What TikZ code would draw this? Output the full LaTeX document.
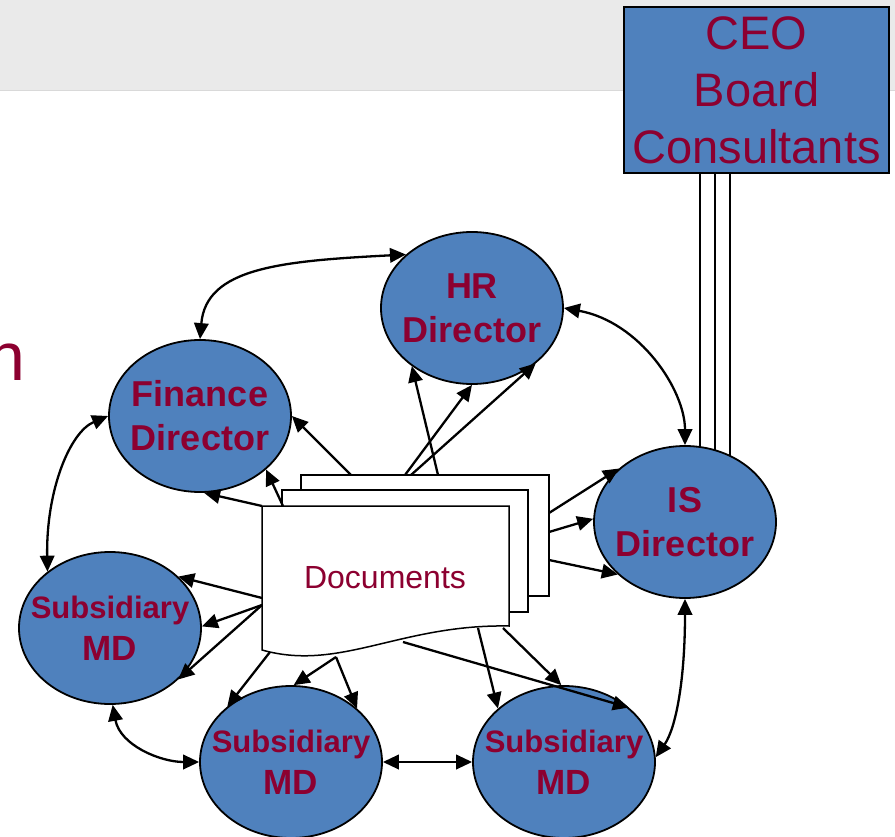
\documentclass[tikz,border=0pt]{standalone}
\usepackage{fontspec}
\setmainfont{Liberation Sans}
\usetikzlibrary{shapes.geometric,arrows.meta}
\pgfdeclarelayer{background}
\pgfdeclarelayer{foreground}
\pgfsetlayers{background,main,foreground}
\definecolor{textred}{RGB}{140,0,48}
\definecolor{nodeblue}{RGB}{79,129,189}
\definecolor{headgrey}{RGB}{234,234,234}
\tikzset{
  director/.style={ellipse,draw,line width=1.8pt,fill=nodeblue,minimum width=182pt,minimum height=152pt,inner sep=0pt},
  dirtext/.style={align=center,inner sep=0pt,text=textred,font=\fontsize{36}{44}\selectfont\bfseries},
  subtext/.style={dirtext,font=\fontsize{31}{42}\selectfont\bfseries},
  docpage/.style={draw,line width=1.5pt,fill=white,inner sep=0pt},
  flow/.style={line width=2.3pt,-{Triangle[length=16pt,width=14.5pt]}},
  dflow/.style={line width=2.3pt,{Triangle[length=16pt,width=14.5pt]}-{Triangle[length=16pt,width=14.5pt]}}
}
\newcommand{\mdline}{{\fontsize{35}{42}\selectfont MD}}
\begin{document}
\begin{tikzpicture}[x=1pt,y=-1pt]
\useasboundingbox (0,0) rectangle (895,837);
\clip (0,0) rectangle (895,837);
\begin{pgfonlayer}{background}
\fill[headgrey] (0,0) rectangle (895,90);
\draw[line width=1pt,black!15] (0,90.5) -- (895,90.5);
\end{pgfonlayer}
\node[anchor=base east,inner sep=0pt,text=textred,font=\fontsize{68}{80}\selectfont] (title) at (26,380) {n};
\node[draw,line width=1.5pt,fill=nodeblue,minimum width=265pt,minimum height=166pt,inner sep=0pt,align=center,text=textred,font=\fontsize{47}{57}\selectfont] (ceo) at (756.5,90) {CEO\\Board\\Consultants};
% directors and subsidiaries
\node[director,label={[dirtext]center:HR\\Director}] (hr) at (472,308) {};
\node[director,label={[dirtext]center:Finance\\Director}] (fin) at (200,416) {};
\node[director,label={[dirtext]center:IS\\Director}] (is) at (685,522) {};
\node[director,label={[subtext]center:Subsidiary\\\mdline}] (sml) at (110,628) {};
\node[director,label={[subtext]center:Subsidiary\\\mdline}] (smm) at (291,762) {};
\node[director,label={[subtext]center:Subsidiary\\\mdline}] (smr) at (564,762) {};
\begin{pgfonlayer}{background}
\foreach \dx in {15,30,45}
  \draw[line width=2pt] ([xshift=\dx pt]is.center |- ceo.south) -- ([xshift=\dx pt]is.center);
\end{pgfonlayer}
% document stack
\node[docpage,minimum width=248pt,minimum height=121pt] (back) at (425,535.5) {};
\node[docpage,minimum width=246pt,minimum height=122pt] (mid) at (405,551) {};
\draw[docpage] (262,506) -- (509,506) -- (509,626) .. controls (400,624) and (340,672) .. (262,650) -- cycle;
\node[text=textred,font=\fontsize{32}{36}\selectfont] (docs) at (385,578) {Documents};
\coordinate (f1) at (351,475);
\coordinate (f2) at (283,506);
\coordinate (f3) at (262,506);
\coordinate (h1) at (438,475);
\coordinate (h2) at (405,475);
\coordinate (h3) at (411,475);
\coordinate (i1) at (549,513);
\coordinate (i2) at (549,532);
\coordinate (i3) at (549,560);
\coordinate (l1) at (262,598);
\coordinate (l2) at (262,605);
\coordinate (m1) at (270,652);
\coordinate (m2) at (336,657);
\coordinate (r1) at (478,628);
\coordinate (r2) at (503,628);
\coordinate (r3) at (403,642);
% documents out
\draw[flow] (f1) -- (fin.east);
\draw[flow] (f2) -- (fin.-39);
\draw[flow] (f3) -- (fin.-87);
\draw[flow] (h1) -- (hr.-136);
\draw[flow] (h2) -- (hr.south);
\draw[flow] (h3) -- (hr.-41);
\draw[flow] (i1) -- (is.141);
\draw[flow] (i2) -- (is.178);
\draw[flow] (i3) -- (is.-142);
\draw[flow] (l1) -- (sml.37);
\draw[flow] (l2) -- (sml.1);
\draw[flow] (l2) -- (sml.-37);
\draw[flow] (m1) -- (smm.139);
\draw[flow] (m2) -- (smm.88);
\draw[flow] (m2) -- (smm.39);
\draw[flow] (r1) -- (smr.141);
\draw[flow] (r2) -- (smr.92);
\draw[flow] (r3) -- (smr.40);
% ring between the heads
\draw[dflow] (fin.north) .. controls (206,268) and (280,261) .. (hr.141);
\draw[dflow] (hr.east) .. controls (640,322) and (685,390) .. (is.north);
\draw[dflow] (fin.west) .. controls (70,432) and (46,490) .. (sml.138);
\draw[dflow] (sml.-88) .. controls (120,745) and (160,762) .. (smm.west);
\draw[dflow] (smm.east) -- (smr.west);
\draw[dflow] (is.south) .. controls (685,680) and (676,728) .. (smr.3);
\end{tikzpicture}
\end{document}
